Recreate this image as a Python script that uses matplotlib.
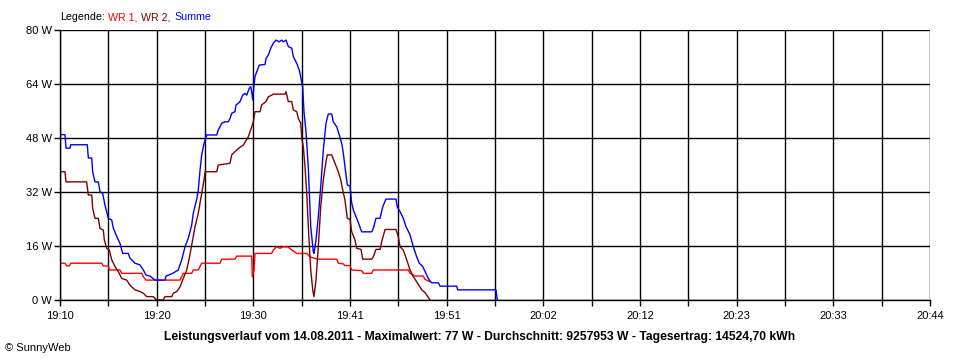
import numpy as np
import matplotlib.pyplot as plt

plt.rcParams['font.family'] = ['Liberation Sans', 'DejaVu Sans']

# minutes after 19:10, power in W
t_sum = [0, 0.54, 0.65, 1.08, 1.16, 2.95, 3.06, 3.43, 3.53, 3.78, 4.14, 4.32, 4.61, 4.86,
         5.22, 5.59, 5.76, 6.13, 6.48, 6.77, 7.38, 7.56, 8.10, 8.64, 9.00, 9.29, 9.72, 10.26,
         11.35, 11.45, 12.18, 12.78, 13.15, 13.51, 13.86, 14.23, 14.40, 14.77, 14.94, 15.13,
         15.31, 15.56, 15.85, 16.93, 17.10, 17.29, 17.47, 17.83, 18.19, 18.37, 18.55, 18.91,
         19.02, 19.27, 19.45, 19.74, 19.99, 20.17, 20.45, 20.61, 20.71, 20.82, 20.96, 21.07,
         21.25, 21.53, 22.15, 22.26, 22.51, 22.77, 23.05, 23.34, 23.69, 23.95, 24.13, 24.42,
         24.67, 25.04, 25.21, 25.58, 25.86, 26.04, 26.22, 26.36, 26.58, 26.83, 27.09, 27.37,
         27.44, 27.66, 27.91, 28.17, 28.45, 28.74, 28.99, 29.36, 29.53, 29.90, 30.18, 30.44,
         30.61, 30.79, 31.04, 31.33, 31.52, 31.69, 32.06, 32.60, 33.68, 33.85, 34.14, 34.58,
         34.87, 35.22, 36.30, 36.44, 36.74, 37.09, 37.39, 37.82, 38.17, 38.54, 38.82, 39.19,
         39.62, 39.90, 40.16, 40.88, 41.06, 42.86, 42.97, 47.11, 47.25]
p_sum = [49, 49, 45.0, 45.0, 46, 46, 42.1, 42.1, 38.0, 35.0, 35.0, 32.1, 31.6, 28.1,
         24.2, 23.7, 21.3, 18.8, 16.8, 13.8, 13.8, 12.4, 10.9, 10.4, 8.9, 7.4, 7.1, 5.9,
         5.9, 7.1, 7.9, 8.9, 11.9, 15.8, 18.3, 22.2, 25.7, 29.8, 32.6, 38.5,
         43.0, 46.4, 48.9, 48.9, 50.4, 51.3, 52.4, 52.8, 52.8, 53.8, 55.3, 55.8,
         57.8, 58.3, 58.8, 60.7, 61.2, 60.7, 62.7, 63.2, 61.7, 59.3, 63.7, 66.2,
         67.6, 69.6, 69.8, 71.6, 72.6, 74.6, 76.1, 77.0, 76.5, 77.0, 76.5, 77.0,
         75.1, 74.6, 72.1, 70.1, 68.1, 65.7, 63.2, 55.8, 49.9, 39.1, 21.7, 14.3,
         13.8, 17.8, 24.7, 33.6, 44.4, 52.4, 55.1, 55.1, 52.8, 51.3, 48.9, 46.4,
         43.5, 39.5, 34.1, 33.8, 28.7, 26.7, 24.2, 20.2, 20.2, 21.2, 24.2, 24.2,
         27.6, 29.9, 29.9, 27.6, 26.2, 24.2, 21.7, 19.3, 15.8, 12.8, 10.9, 9.9,
         7.4, 5.9, 5.1, 5.1, 4.1, 4.1, 3.0, 3.0, 0]

t_wr2 = [0, 0.54, 0.65, 2.88, 3.06, 3.43, 3.53, 3.78, 4.14, 4.32, 4.68, 4.79, 5.05, 5.33,
         5.59, 5.94, 6.30, 6.67, 7.21, 7.56, 8.10, 8.64, 9.00, 9.37, 10.08, 10.45, 11.16,
         11.35, 12.07, 12.24, 12.61, 12.97, 13.32, 13.69, 13.97, 14.23, 14.59, 14.94, 15.31,
         15.56, 15.67, 16.93, 17.10, 18.37, 18.55, 19.27, 19.81, 20.35, 20.71, 20.89, 21.07,
         21.61, 21.79, 22.26, 22.51, 22.87, 23.05, 24.31, 24.42, 24.67, 25.04, 25.21, 25.58,
         25.75, 26.01, 26.12, 26.29, 26.47, 26.66, 26.83, 27.09, 27.31, 27.44, 27.66, 27.91,
         28.17, 28.45, 28.74, 28.88, 29.36, 29.71, 30.07, 30.33, 30.55, 30.79, 31.04, 31.33,
         31.52, 31.87, 32.06, 32.52, 32.71, 33.68, 33.85, 34.14, 34.58, 34.76, 35.12, 36.30,
         36.55, 36.74, 37.09, 37.46, 37.82, 38.17, 38.54, 39.08, 39.44, 39.69, 39.98]
p_wr2 = [38.0, 38.0, 35.0, 35.0, 31.1, 31.1, 27.2, 24.2, 24.2, 21.2, 20.7, 17.8, 15.3, 14.8,
         11.9, 9.9, 8.4, 6.4, 5.9, 4.4, 3.0, 2.5, 2.0, 1.0, 1.0, 0, 0,
         1.0, 1.0, 2.0, 2.5, 3.9, 6.4, 8.9, 12.4, 16.3, 21.7, 25.7, 31.6,
         35.6, 38.0, 38.0, 40.0, 40.5, 43.0, 44.9, 45.9, 48.4, 51.3, 52.8, 55.8,
         55.8, 57.8, 58.8, 60.2, 60.7, 61.0, 61.0, 61.7, 58.8, 58.8, 56.3, 55.8,
         53.8, 52.4, 47.9, 45.4, 39.5, 31.6, 21.7, 8.9, 3.0, 1.0, 5.9, 15.8,
         27.6, 35.6, 41.0, 43.0, 43.0, 40.5, 38.0, 35.6, 32.6, 29.6, 24.2, 23.9,
         20.2, 17.8, 15.3, 15.0, 12.1, 12.1, 12.8, 15.0, 15.0, 17.3, 20.9, 20.9,
         18.8, 15.8, 14.8, 11.9, 8.9, 6.9, 5.4, 3.0, 2.2, 1.2, 0]

t_wr1 = [0, 0.54, 0.72, 1.00, 1.16, 4.51, 4.68, 5.22, 5.33, 6.48, 6.67, 8.83, 9.00, 9.29,
         12.97, 13.15, 13.32, 14.23, 14.40, 14.94, 15.31, 17.29, 17.47, 18.91, 19.09, 20.71,
         20.78, 20.96, 21.07, 22.87, 23.05, 23.41, 23.77, 24.13, 24.67, 25.04, 25.58, 26.66,
         27.01, 27.80, 29.90, 30.07, 30.61, 30.79, 31.33, 31.52, 32.60, 32.77, 33.68, 33.85,
         37.63, 37.82, 38.36, 39.25, 39.44, 39.98]
p_wr1 = [10.9, 10.9, 10.1, 10.1, 10.9, 10.9, 10.1, 10.1, 8.9, 8.9, 7.9, 7.9, 6.9, 5.9,
         5.9, 6.9, 7.9, 7.9, 8.9, 8.9, 10.9, 10.9, 12.1, 12.1, 13.0, 13.0,
         6.9, 8.9, 13.8, 13.8, 14.8, 15.8, 15.3, 15.8, 15.7, 14.8, 13.8, 13.8,
         12.8, 12.1, 12.1, 10.9, 10.7, 10.2, 10.2, 8.9, 8.7, 7.9, 7.9, 8.9,
         8.9, 7.9, 7.1, 7.1, 6.1, 5.4]

x_labels = ['19:10', '19:20', '19:30', '19:41', '19:51', '20:02', '20:12', '20:23', '20:33', '20:44']
y_ticks = [0, 16, 32, 48, 64, 80]
t_end = 94.0

fig = plt.figure(figsize=(9.6, 3.6), dpi=100)
ax = fig.add_axes([60/960, 60/360, 870/960, 270/360])

ax.plot(t_wr1, p_wr1, color='#ff0000', lw=1.0)
ax.plot(t_wr2, p_wr2, color='#800000', lw=1.0)
ax.plot(t_sum, p_sum, color='#0000ff', lw=1.0)

step = t_end / (len(x_labels) - 1)
ax.set_xlim(0, t_end)
ax.set_ylim(0, 80)
ax.set_xticks(np.arange(len(x_labels)) * step)
ax.set_xticklabels(x_labels)
ax.set_xticks(np.arange(len(x_labels) - 1) * step + step / 2, minor=True)
ax.set_yticks(y_ticks)
ax.set_yticklabels(['%d W' % v for v in y_ticks])
ax.grid(True, which='both', color='black', lw=1.0)
ax.set_axisbelow(True)
for s in ['top', 'right']:
    ax.spines[s].set_visible(False)
for s in ['left', 'bottom']:
    ax.spines[s].set_linewidth(1.0)
ax.tick_params(which='both', direction='out', length=4, width=1.0, color='black',
               labelsize=8, pad=2)
ax.tick_params(axis='x', pad=4)

fig.text(0.5, 1 - 337/360, 'Leistungsverlauf vom 14.08.2011 - Maximalwert: 77 W - '
         'Durchschnitt: 9257953 W - Tagesertrag: 14524,70 kWh',
         ha='center', va='center', fontsize=8.7, fontweight='bold')
fig.text(5/960, 1 - 348/360, '\u00a9 SunnyWeb', ha='left', va='center', fontsize=8)

# legend as coloured text pieces
renderer = fig.canvas.get_renderer()
x = 60/960
for txt, col in [('Legende:', 'black'), ('WR 1,', '#ff0000'),
                 ('WR 2,', '#800000'), ('Summe', '#0000ff')]:
    t = fig.text(x, 1 - 17/360, txt, ha='left', va='center', fontsize=7.7, color=col)
    bb = t.get_window_extent(renderer)
    x += (bb.width + 3.5) / fig.bbox.width

plt.savefig('out.png', dpi=100)
